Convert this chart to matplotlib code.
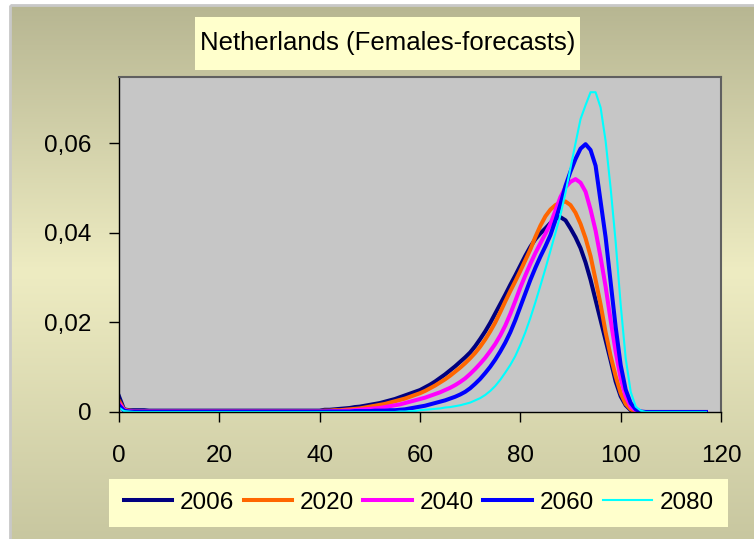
import numpy as np
import matplotlib.pyplot as plt
from matplotlib.patches import Rectangle
from matplotlib.ticker import FuncFormatter

plt.rcParams['font.family'] = ['Liberation Sans', 'DejaVu Sans']

# ages on the x axis (dense where the curves move)
ages = [0, 1, 2, 3, 4, 5, 6, 10, 20, 30] + list(range(40, 107)) + [110, 117]

# share of deaths by age
d2006 = [0.0035, 0.0006, 0.0004, 0.0004, 0.0004, 0.0004, 0.0003, 0.0003, 0.0003, 0.0003,
         0.0003, 0.0005, 0.0005, 0.0006, 0.0007, 0.0008, 0.0009, 0.0011, 0.0012, 0.0014,
         0.0016, 0.0018, 0.0020, 0.0023, 0.0026, 0.0029, 0.0033, 0.0037, 0.0041, 0.0045,
         0.0049, 0.0055, 0.0061, 0.0068, 0.0076, 0.0084, 0.0093, 0.0102, 0.0112, 0.0122,
         0.0133, 0.0147, 0.0163, 0.0180, 0.0199, 0.0220, 0.0241, 0.0262, 0.0284, 0.0305,
         0.0327, 0.0349, 0.0369, 0.0386, 0.0399, 0.0410, 0.0422, 0.0432, 0.0435, 0.0428,
         0.0410, 0.0390, 0.0366, 0.0334, 0.0295, 0.0250, 0.0205, 0.0160, 0.0115, 0.0068,
         0.0035, 0.0015, 0.0004, 0.0001, 0.0, 0.0, 0.0,
         0.0, 0.0]
d2020 = [0.0025, 0.0005, 0.0003, 0.0002, 0.0002, 0.0002, 0.0002, 0.0002, 0.0002, 0.0002,
         0.0002, 0.0003, 0.0003, 0.0004, 0.0004, 0.0005, 0.0006, 0.0007, 0.0008, 0.0010,
         0.0012, 0.0014, 0.0016, 0.0018, 0.0021, 0.0024, 0.0027, 0.0030, 0.0034, 0.0038,
         0.0042, 0.0047, 0.0053, 0.0059, 0.0066, 0.0073, 0.0081, 0.0090, 0.0099, 0.0109,
         0.0120, 0.0132, 0.0146, 0.0162, 0.0180, 0.0200, 0.0223, 0.0247, 0.0270, 0.0292,
         0.0315, 0.0339, 0.0363, 0.0391, 0.0416, 0.0437, 0.0452, 0.0462, 0.0468, 0.0470,
         0.0462, 0.0445, 0.0420, 0.0388, 0.0348, 0.0295, 0.0240, 0.0178, 0.0125, 0.0080,
         0.0042, 0.0018, 0.0006, 0.0001, 0.0, 0.0, 0.0,
         0.0, 0.0]
d2040 = [0.0020, 0.0004, 0.0002, 0.0001, 0.0001, 0.0001, 0.0001, 0.0001, 0.0001, 0.0001,
         0.0001, 0.0001, 0.0002, 0.0002, 0.0002, 0.0003, 0.0003, 0.0004, 0.0005, 0.0006,
         0.0007, 0.0008, 0.0009, 0.0011, 0.0013, 0.0015, 0.0017, 0.0020, 0.0023, 0.0026,
         0.0029, 0.0032, 0.0036, 0.0040, 0.0044, 0.0049, 0.0054, 0.0060, 0.0067, 0.0075,
         0.0085, 0.0096, 0.0108, 0.0121, 0.0136, 0.0152, 0.0171, 0.0193, 0.0219, 0.0248,
         0.0278, 0.0305, 0.0331, 0.0355, 0.0377, 0.0398, 0.0420, 0.0450, 0.0480, 0.0502,
         0.0514, 0.0520, 0.0512, 0.0492, 0.0452, 0.0405, 0.0345, 0.0280, 0.0205, 0.0135,
         0.0075, 0.0035, 0.0012, 0.0003, 0.0, 0.0, 0.0,
         0.0, 0.0]
d2060 = [0.0015, 0.0003, 0.0001, 0.0001, 0.0001, 0.0001, 0.0001, 0.0001, 0.0001, 0.0001,
         0.0001, 0.0001, 0.0001, 0.0001, 0.0001, 0.0001, 0.0001, 0.0002, 0.0002, 0.0002,
         0.0002, 0.0003, 0.0003, 0.0003, 0.0004, 0.0004, 0.0005, 0.0006, 0.0008, 0.0010,
         0.0012, 0.0014, 0.0017, 0.0020, 0.0023, 0.0026, 0.0030, 0.0034, 0.0039, 0.0045,
         0.0053, 0.0063, 0.0074, 0.0087, 0.0101, 0.0117, 0.0135, 0.0155, 0.0178, 0.0205,
         0.0235, 0.0265, 0.0295, 0.0322, 0.0347, 0.0370, 0.0395, 0.0428, 0.0464, 0.0505,
         0.0537, 0.0565, 0.0588, 0.0598, 0.0585, 0.0550, 0.0470, 0.0390, 0.0290, 0.0190,
         0.0105, 0.0050, 0.0020, 0.0006, 0.0001, 0.0, 0.0,
         0.0, 0.0]
d2080 = [0.0010, 0.0002, 0.0001, 0.0, 0.0, 0.0, 0.0, 0.0, 0.0, 0.0,
         0.0, 0.0, 0.0, 0.0, 0.0, 0.0, 0.0, 0.0, 0.0, 0.0,
         0.0, 0.0, 0.0, 0.0, 0.0, 0.0, 0.0001, 0.0001, 0.0002, 0.0002,
         0.0004, 0.0005, 0.0006, 0.0007, 0.0008, 0.0010, 0.0011, 0.0013, 0.0015, 0.0018,
         0.0021, 0.0026, 0.0031, 0.0038, 0.0047, 0.0058, 0.0072, 0.0088, 0.0105, 0.0125,
         0.0150, 0.0178, 0.0210, 0.0245, 0.0282, 0.0320, 0.0360, 0.0400, 0.0440, 0.0490,
         0.0545, 0.0600, 0.0654, 0.0685, 0.0714, 0.0714, 0.0680, 0.0605, 0.0500, 0.0380,
         0.0240, 0.0120, 0.0045, 0.0012, 0.0003, 0.0, 0.0,
         0.0, 0.0]

series = [("2006", d2006, "#000080", 2.9),
          ("2020", d2020, "#FF6600", 2.9),
          ("2040", d2040, "#FF00FF", 2.9),
          ("2060", d2060, "#0000FF", 2.9),
          ("2080", d2080, "#00FFFF", 1.5)]

W, H = 754, 539
fig = plt.figure(figsize=(W / 100, H / 100), dpi=100)
fig.patch.set_facecolor("white")

# khaki gradient background of the chart area
bg = fig.add_axes([0, 0, 1, 1], zorder=-10)
bg.set_xlim(0, W)
bg.set_ylim(H, 0)
bg.axis("off")
stops = np.array([[183, 182, 146], [238, 236, 194], [200, 199, 160]]) / 255
t = np.linspace(0, 1, 256)
grad = np.stack([np.interp(t, [0, 0.5, 1], stops[:, k]) for k in range(3)], axis=-1)
bg.imshow(grad[:, None, :], extent=(10, W, H, 5), aspect="auto", interpolation="bilinear")
bg.add_patch(Rectangle((10, 5), W, H, fill=False, edgecolor="#c8c8c8", lw=2))

# title box
bg.add_patch(Rectangle((195, 17), 385, 53, facecolor="#ffffcc", edgecolor="none"))
bg.text(388, 43, "Netherlands (Females-forecasts)", ha="center", va="center", fontsize=18.5)

ax = fig.add_axes([119 / W, 1 - 412 / H, 602 / W, 335 / H])
ax.set_facecolor("#c6c6c6")
for name, vals, col, lw in series:
    ax.plot(ages, vals, color=col, lw=lw, label=name)

ax.set_xlim(0, 120)
ax.set_ylim(0, 0.0748)
ax.set_xticks([0, 20, 40, 60, 80, 100, 120])
ax.set_yticks([0, 0.02, 0.04, 0.06])
ax.yaxis.set_major_formatter(FuncFormatter(lambda v, p: "0" if v == 0 else f"{v:.2f}".replace(".", ",")))
ax.tick_params(axis="both", direction="out", length=7, width=1, color="black", labelsize=17.5)
ax.tick_params(axis="x", pad=17)
ax.tick_params(axis="y", pad=13)
for s in ["top", "right"]:
    ax.spines[s].set_color("#606060")
    ax.spines[s].set_linewidth(1.5)
for s in ["left", "bottom"]:
    ax.spines[s].set_color("black")
    ax.spines[s].set_linewidth(1)

# legend box
bg.add_patch(Rectangle((109, 479), 619, 48, facecolor="#ffffcc", edgecolor="none"))
fig.legend(loc="center", bbox_to_anchor=(109 / W, 1 - 527 / H, 619 / W, 48 / H), mode="expand",
           ncol=5, frameon=False, fontsize=17.5, handlelength=2.0, handletextpad=0.3,
           columnspacing=0.6, borderaxespad=0.2)

fig.savefig("out.png", dpi=100)
